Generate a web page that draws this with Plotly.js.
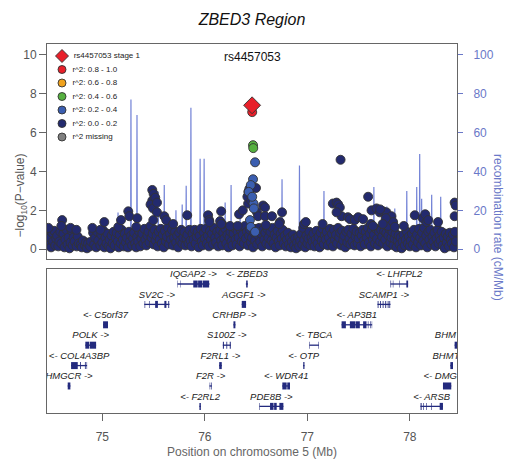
<!DOCTYPE html>
<html><head><meta charset="utf-8">
<script src="https://cdn.plot.ly/plotly-3.0.1.min.js"></script>
<style>html,body{margin:0;padding:0;background:#fff}</style>
</head><body><div id="chart" style="width:516px;height:461px"></div>
<script>
// ---------- association data (Mb, -log10 P) ----------
const basePos = [74.47,74.48,74.49,74.50,74.51,74.52,74.53,74.54,74.55,74.56,74.57,74.58,74.59,74.60,74.62,74.63,74.64,74.65,74.66,74.67,74.68,74.69,74.70,74.71,74.72,74.73,74.75,74.76,74.77,74.79,74.80,74.81,74.83,74.84,74.85,74.86,74.88,74.89,74.91,74.92,74.93,74.94,74.95,74.96,74.98,74.99,75.00,75.01,75.02,75.03,75.04,75.05,75.06,75.07,75.08,75.09,75.10,75.11,75.12,75.13,75.14,75.15,75.16,75.17,75.18,75.19,75.20,75.21,75.22,75.23,75.24,75.25,75.26,75.27,75.28,75.29,75.30,75.31,75.32,75.33,75.34,75.35,75.36,75.37,75.38,75.39,75.40,75.41,75.42,75.43,75.44,75.45,75.46,75.47,75.48,75.49,75.50,75.51,75.52,75.53,75.54,75.55,75.56,75.57,75.58,75.59,75.60,75.61,75.62,75.63,75.64,75.65,75.66,75.67,75.68,75.69,75.70,75.71,75.72,75.73,75.74,75.75,75.76,75.77,75.78,75.79,75.80,75.81,75.82,75.83,75.84,75.85,75.86,75.87,75.88,75.89,75.90,75.91,75.92,75.93,75.94,75.95,75.96,75.97,75.98,75.99,76.00,76.01,76.02,76.03,76.04,76.05,76.06,76.07,76.08,76.09,76.10,76.11,76.12,76.13,76.14,76.15,76.16,76.17,76.18,76.19,76.20,76.21,76.22,76.23,76.24,76.25,76.26,76.27,76.28,76.29,76.30,76.31,76.32,76.33,76.34,76.35,76.36,76.37,76.38,76.39,76.40,76.41,76.42,76.43,76.44,76.45,76.46,76.47,76.48,76.49,76.50,76.51,76.52,76.53,76.54,76.55,76.56,76.57,76.58,76.59,76.60,76.61,76.62,76.63,76.64,76.65,76.66,76.67,76.68,76.69,76.70,76.71,76.72,76.73,76.74,76.75,76.76,76.77,76.78,76.79,76.80,76.81,76.82,76.83,76.84,76.85,76.86,76.87,76.88,76.89,76.90,76.91,76.92,76.93,76.94,76.95,76.96,76.97,76.98,76.99,77.00,77.01,77.02,77.03,77.04,77.05,77.06,77.07,77.08,77.09,77.10,77.11,77.12,77.13,77.14,77.15,77.16,77.17,77.18,77.19,77.20,77.21,77.22,77.23,77.24,77.25,77.26,77.27,77.28,77.29,77.30,77.31,77.32,77.33,77.34,77.35,77.36,77.37,77.38,77.39,77.40,77.41,77.42,77.43,77.44,77.45,77.46,77.47,77.48,77.49,77.50,77.51,77.52,77.53,77.54,77.55,77.56,77.57,77.58,77.59,77.60,77.61,77.62,77.63,77.64,77.65,77.66,77.67,77.68,77.69,77.70,77.71,77.72,77.73,77.74,77.75,77.76,77.77,77.78,77.79,77.80,77.81,77.82,77.83,77.84,77.85,77.86,77.87,77.88,77.89,77.90,77.91,77.92,77.93,77.94,77.95,77.96,77.97,77.98,77.99,78.00,78.01,78.02,78.03,78.04,78.05,78.06,78.07,78.08,78.09,78.10,78.11,78.12,78.13,78.14,78.15,78.16,78.17,78.18,78.19,78.20,78.21,78.22,78.23,78.24,78.25,78.26,78.27,78.28,78.29,78.30,78.31,78.32,78.33,78.34,78.35,78.36,78.37,78.38,78.39,78.40,78.41,78.42,78.43,78.44,78.45];
const baseLogP = [0.9,0.3,0.6,0.1,0.85,0.4,0.95,0.2,0.55,0.7,0.15,0.4,0.9,0.3,0.8,0.1,0.5,1.0,0.25,0.6,0.05,0.35,0.95,0.2,0.6,0.4,0.15,0.65,0.3,0.25,0.1,0.45,0.2,0.35,0.05,0.3,0.15,0.4,0.85,0.25,0.6,0.1,0.9,0.45,0.2,0.75,0.35,0.95,0.1,0.6,0.3,0.8,0.15,0.5,0.05,0.7,0.3,0.9,0.2,0.6,0.85,0.4,0.1,0.75,0.3,1.0,0.5,0.15,0.8,0.35,0.6,0.1,0.9,0.4,0.7,0.2,0.55,0.85,0.3,0.1,0.65,0.4,0.9,0.15,0.55,0.8,0.3,1.05,0.5,0.2,0.7,0.9,0.35,1.2,0.6,0.8,0.25,1.0,0.45,0.7,0.15,0.9,0.5,1.05,0.3,0.75,0.1,0.95,0.4,0.65,1.1,0.25,0.8,0.5,1.0,0.2,0.6,0.9,0.35,0.7,0.1,0.85,0.45,1.0,0.3,0.6,0.9,0.2,0.55,0.75,0.3,1.0,0.45,0.15,0.8,0.5,1.0,0.3,0.65,0.9,0.1,0.7,1.05,0.4,0.2,0.85,0.55,1.05,0.3,0.7,0.15,0.95,0.5,0.8,0.25,1.1,0.6,0.35,0.9,0.15,0.7,1.0,0.45,0.2,0.85,0.55,1.05,0.3,0.75,0.1,0.6,0.9,0.4,0.2,0.8,1.1,0.5,0.25,0.9,0.6,0.15,1.0,0.4,0.75,0.3,1.2,0.55,0.9,0.2,0.7,1.0,0.35,0.6,0.1,0.85,0.45,1.05,0.25,0.7,1.1,0.4,0.8,0.15,1.0,0.5,0.85,0.3,1.05,0.6,0.2,0.9,0.45,1.1,0.3,0.75,0.1,0.6,0.95,0.4,0.2,0.8,0.55,1.0,0.3,0.7,0.15,0.5,0.85,0.25,0.6,0.1,0.4,0.75,0.2,0.55,0.05,0.35,0.65,0.15,0.45,0.8,0.25,1.1,0.5,0.1,0.7,0.3,0.55,0.9,0.2,0.6,0.4,0.8,0.15,0.5,0.95,0.3,0.65,0.1,0.85,0.45,1.05,0.25,0.7,0.5,0.9,0.2,0.6,1.05,0.35,0.8,0.15,1.0,0.5,0.75,0.3,1.1,0.6,0.85,0.2,0.95,0.45,0.7,0.1,0.9,0.35,1.0,0.55,0.25,0.8,0.4,1.05,0.2,0.65,0.9,0.3,0.55,0.85,0.15,0.7,1.0,0.45,0.25,0.9,0.6,1.1,0.35,0.8,0.15,1.0,0.5,0.75,0.3,1.05,0.55,0.2,0.9,0.4,1.0,0.65,0.3,0.95,0.5,0.85,0.15,0.7,1.05,0.35,0.6,0.9,0.2,0.55,0.8,0.1,0.45,0.7,0.25,0.6,0.05,0.4,0.75,0.2,0.5,0.9,0.3,0.65,0.15,0.45,0.8,0.25,1.0,0.55,0.1,0.75,0.35,1.05,0.6,0.2,0.85,0.45,1.1,0.3,0.7,0.1,0.9,0.5,1.0,0.25,0.65,0.4,0.85,0.15,0.55,1.0,0.3,0.7,0.45,0.9,0.2,0.6,0.05,0.8,0.35,0.65,0.15,0.85,0.5,0.3,0.75,0.1,0.9,0.4];
const upPos = [74.474,74.608,74.600,74.690,74.747,74.903,74.981,75.019,75.156,75.182,75.253,75.263,75.341,75.331,75.487,75.500,75.487,75.470,75.495,75.516,75.533,75.497,75.533,75.604,75.623,75.691,75.828,76.032,76.042,76.149,76.159,76.168,76.246,76.334,76.370,76.422,76.415,76.425,76.434,76.452,76.499,76.509,76.519,76.568,76.587,76.587,76.655,76.733,76.753,76.967,77.149,77.249,77.285,77.301,77.317,77.334,77.285,77.324,77.395,77.415,77.463,77.496,77.544,77.593,77.626,77.675,77.707,77.739,77.772,77.788,77.821,77.837,77.853,77.941,78.048,78.126,78.162,78.275,78.437,78.447,78.437,77.710,77.765,77.735,77.620,77.640,78.150,78.180,76.045,76.160,76.320,76.595,76.725,76.985];
const upLogP = [1.1,1.5,1.2,1.1,1.0,1.1,1.0,1.4,1.15,1.5,1.95,1.7,1.6,1.15,3.05,2.85,2.5,2.3,2.1,2.65,2.4,1.5,1.9,1.7,1.5,1.3,1.75,1.75,1.5,1.45,1.95,1.3,1.2,1.8,2.0,2.35,2.7,2.95,3.1,2.5,3.15,1.9,1.7,2.25,2.15,1.7,1.7,1.4,1.9,1.3,1.3,2.35,2.4,2.3,2.15,1.7,1.9,4.6,1.65,1.55,1.5,1.65,1.55,2.7,2.0,2.1,1.9,1.95,1.9,1.2,1.7,1.4,1.15,1.2,1.75,1.6,1.4,1.4,2.4,2.25,1.7,2.05,1.6,1.3,1.3,1.2,1.8,1.5,1.4,1.3,1.2,1.25,1.3,1.4];
const r2lowPos = [76.490,76.470,76.448,76.475,76.478,76.440,76.448,76.490,76.428,76.462];
const r2lowLogP = [4.47,3.6,3.3,2.35,2.1,1.5,1.15,0.9,2.95,2.7];
const r2midPos = [76.470,76.472];
const r2midLogP = [5.35,5.2];
const r2highPos = [76.462];
const r2highLogP = [7.05];
const leadPos = [76.461];
const leadLogP = [7.4];
const leadName = 'rs4457053';

// ---------- recombination rate (cM/Mb) ----------
const recPos = [74.46,75.150,75.153,75.156,75.276,75.279,75.282,75.335,75.338,75.341,75.542,75.545,75.548,75.601,75.604,75.607,75.715,75.718,75.721,75.776,75.779,75.782,75.815,75.818,75.821,75.861,75.864,75.867,75.951,75.954,75.957,75.990,75.993,75.996,76.195,76.198,76.201,76.253,76.256,76.259,76.341,76.344,76.347,76.750,76.753,76.756,76.920,76.923,76.926,77.159,77.162,77.165,77.646,77.649,77.652,77.772,77.775,77.778,77.850,77.853,77.856,77.967,77.970,77.973,78.064,78.067,78.070,78.093,78.096,78.099,78.112,78.115,78.118,78.210,78.213,78.216,78.298,78.301,78.304,78.46];
const recRate = [1.5,1.5,18.9,1.5,1.5,77,1.5,1.5,69,1.5,1.5,29.7,1.5,1.5,33,1.5,1.5,20,1.5,1.5,23,1.5,1.5,32.6,1.5,1.5,72.8,1.5,1.5,46.5,1.5,1.5,46.5,1.5,1.5,24,1.5,1.5,33,1.5,1.5,18,1.5,1.5,36,1.5,1.5,43,1.5,1.5,30,1.5,1.5,32,1.5,1.5,22,1.5,1.5,21,1.5,1.5,30,1.5,1.5,32,1.5,1.5,49,1.5,1.5,26,1.5,1.5,28,1.5,1.5,27,1.5,1.5];

// ---------- legend ----------
const legendLabels = ['rs4457053 stage 1','r^2: 0.8 - 1.0','r^2: 0.6 - 0.8','r^2: 0.4 - 0.6','r^2: 0.2 - 0.4','r^2: 0.0 - 0.2','r^2 missing'];
const legendColors = ['#e8202a','#e8202a','#f0a21d','#55b03f','#3b5eb0','#232a6e','#7f7f7f'];
const legendSymbols = ['diamond','circle','circle','circle','circle','circle','circle'];

// ---------- genes ----------
const geneNames = ['IQGAP2 ->','<- ZBED3','<- LHFPL2','SV2C ->','AGGF1 ->','SCAMP1 ->','<- C5orf37','CRHBP ->','<- AP3B1','POLK ->','S100Z ->','<- TBCA','BHMT2 ->','<- COL4A3BP','F2RL1 ->','<- OTP','BHMT ->','HMGCR ->','F2R ->','<- WDR41','<- DMGDH','<- F2RL2','PDE8B ->','<- ARSB'];
const geneStart = [75.733,76.400,77.811,75.409,76.360,77.684,75.007,76.279,77.334,74.834,76.175,77.019,78.437,74.695,76.139,76.958,78.395,74.662,76.045,76.756,78.323,75.947,76.532,78.103];
const geneEnd = [76.045,76.420,77.983,75.655,76.402,77.811,75.055,76.298,77.632,74.939,76.253,77.113,78.475,74.851,76.165,76.972,78.421,74.688,76.068,76.831,78.404,75.961,76.766,78.323];
const geneRow = [1,1,1,2,2,2,3,3,3,4,4,4,4,5,5,5,5,6,6,6,6,7,7,7];
const geneExons = [
  [[75.733,75.737],[75.758,75.762],[75.887,75.930],[75.934,75.975],[75.980,76.042]],
  [[76.403,76.418]],
  [[77.811,77.817],[77.834,77.839],[77.898,77.903],[77.966,77.983]],
  [[75.412,75.418],[75.455,75.461],[75.515,75.542],[75.605,75.625],[75.643,75.652]],
  [[76.360,76.402]],
  [[77.686,77.694],[77.710,77.718],[77.735,77.743],[77.760,77.769],[77.784,77.792],[77.800,77.808]],
  [[75.007,75.055]],
  [[76.279,76.298]],
  [[77.334,77.376],[77.415,77.470],[77.474,77.512],[77.544,77.577],[77.590,77.596],[77.614,77.620],[77.628,77.632]],
  [[74.834,74.870],[74.876,74.939]],
  [[76.176,76.186],[76.210,76.218],[76.243,76.253]],
  [[77.019,77.024],[77.108,77.113]],
  [[78.437,78.475]],
  [[74.695,74.760],[74.782,74.790],[74.830,74.838],[74.846,74.851]],
  [[76.140,76.165]],
  [[76.960,76.972]],
  [[78.395,78.421]],
  [[74.662,74.688]],
  [[76.047,76.052],[76.060,76.066]],
  [[76.756,76.798],[76.804,76.831]],
  [[78.323,78.404]],
  [[75.947,75.961]],
  [[76.532,76.537],[76.636,76.670],[76.676,76.701],[76.727,76.766]],
  [[78.103,78.107],[78.110,78.116],[78.132,78.138],[78.158,78.164],[78.207,78.213],[78.291,78.323]]
];
const xTicks = [75,76,77,78];

// ---------- build ----------
const XR = [74.46, 78.46];
const OUT = '#333333';
const FONT = 'Liberation Sans, Arial, Helvetica, sans-serif';
const GENECOL = '#232a7e';
const RECCOL = '#6a78c8';
const NB = '\u00a0';

function pts(x, y, color, symbol, size) {
  return {type:'scatter', mode:'markers', x:x, y:y, xaxis:'x', yaxis:'y2', hoverinfo:'skip', showlegend:false,
    marker:{color:color, symbol:symbol, size:size, opacity:1, line:{color:OUT, width:0.9}}};
}

const intronX = [], intronY = [], exonX = [], exonY = [];
geneNames.forEach((g, i) => {
  intronX.push(geneStart[i], geneEnd[i], null);
  intronY.push(-geneRow[i], -geneRow[i], null);
  geneExons[i].forEach(e => { exonX.push(e[0], e[1], null); exonY.push(-geneRow[i], -geneRow[i], null); });
});
const labelX = geneNames.map((g, i) => (geneStart[i] + geneEnd[i]) / 2);
const labelY = geneRow.map(r => -r + 0.45);

const legendY = legendLabels.map((l, i) => 12 + 13.5 * i);

const traces = [
  {type:'scatter', mode:'lines', x:recPos, y:recRate, xaxis:'x', yaxis:'y', hoverinfo:'skip', showlegend:false,
   line:{color:'rgba(100,118,210,0.9)', width:1.2}},
  pts(basePos, baseLogP, '#232a6e', 'circle', 9),
  pts(upPos, upLogP, '#232a6e', 'circle', 9),
  pts(r2lowPos, r2lowLogP, '#3b5eb0', 'circle', 9),
  pts(r2midPos, r2midLogP, '#55b03f', 'circle', 9),
  pts(r2highPos, r2highLogP, '#e8202a', 'circle', 9),
  pts(leadPos, leadLogP, '#e8202a', 'diamond', 13),
  {type:'scatter', mode:'markers+text', x:legendLabels.map(() => 15), y:legendY, xaxis:'x4', yaxis:'y4',
   text:legendLabels.map(l => '  ' + l), textposition:'middle right', cliponaxis:false, hoverinfo:'skip', showlegend:false,
   textfont:{family:FONT, size:8, color:'#222'},
   marker:{color:legendColors, symbol:legendSymbols, opacity:1, size:legendSymbols.map(s => s === 'diamond' ? 10 : 8), line:{color:OUT, width:0.9}}},
  {type:'scatter', mode:'lines', x:intronX, y:intronY, xaxis:'x3', yaxis:'y3', hoverinfo:'skip', showlegend:false,
   line:{color:GENECOL, width:1.3}, connectgaps:false},
  {type:'scatter', mode:'lines', x:exonX, y:exonY, xaxis:'x3', yaxis:'y3', hoverinfo:'skip', showlegend:false,
   line:{color:GENECOL, width:7}, connectgaps:false},
  {type:'scatter', mode:'text', x:labelX, y:labelY, text:geneNames, xaxis:'x3', yaxis:'y3', hoverinfo:'skip', showlegend:false,
   cliponaxis:true, textposition:'middle center', textfont:{family:FONT, size:9.5, color:'#222', style:'italic'}}
];

const topDom = [0.4173, 1], botDom = [0, 0.3902];
const layout = {
  width:516, height:461, margin:{l:47, r:59, t:44, b:48},
  paper_bgcolor:'#fff', plot_bgcolor:'rgba(0,0,0,0)', showlegend:false,
  font:{family:FONT, color:'#555'},
  title:{text:'ZBED3 Region', font:{family:FONT, size:16, color:'#111', style:'italic'}, xref:'paper', x:0.5, xanchor:'center', yref:'container', y:1 - 19/461, yanchor:'middle'},
  xaxis:{domain:[0,1], range:XR, anchor:'y', showticklabels:false, ticks:'', showgrid:false, zeroline:false,
         showline:true, mirror:true, linecolor:'#666', linewidth:1},
  yaxis:{domain:topDom, range:[-5, 105.5], side:'right', anchor:'x', tickvals:[0,20,40,60,80,100], ticks:'outside', ticklen:5,
         tickcolor:RECCOL, tickfont:{size:12, color:RECCOL}, ticklabelstandoff:8, showgrid:false, zeroline:false,
         showline:true, mirror:true, linecolor:'#666', linewidth:1},
  yaxis2:{overlaying:'y', side:'left', anchor:'x', range:[-0.5, 10.55], tickvals:[0,2,4,6,8,10], ticks:'outside', ticklen:7,
          tickcolor:'#666', tickwidth:1, tickfont:{size:12, color:'#555'}, ticksuffix:NB+NB+NB+NB, showgrid:false, zeroline:false, showline:false},
  xaxis4:{overlaying:'x', range:[0, 410], visible:false, anchor:'y4'},
  yaxis4:{overlaying:'y', range:[215, 0], visible:false, anchor:'x4'},
  xaxis3:{domain:[0,1], range:XR, anchor:'y3', tickvals:xTicks, ticks:'outside', ticklen:7, tickcolor:'#666',
          tickfont:{size:12, color:'#555'}, ticklabelstandoff:6, showgrid:false, zeroline:false,
          showline:true, mirror:true, linecolor:'#666', linewidth:1,
          title:{text:'Position on chromosome 5 (Mb)', font:{size:12, color:'#666'}, standoff:4}},
  yaxis3:{domain:botDom, range:[-7.325, -0.265], anchor:'x3', showticklabels:false, ticks:'', showgrid:false, zeroline:false,
          showline:true, mirror:true, linecolor:'#666', linewidth:1},
  annotations:[
    {text:leadName, x:leadPos[0], y:9.89, xref:'x', yref:'y2', showarrow:false, font:{family:FONT, size:12, color:'#111'}},
    {text:'\u2212log<sub>10</sub>(P\u2212value)', xref:'paper', yref:'paper', x:-(47-11)/410, y:(topDom[0]+topDom[1])/2,
     textangle:-90, showarrow:false, font:{family:FONT, size:12, color:'#555'}},
    {text:'recombination rate (cM/Mb)', xref:'paper', yref:'paper', x:1 + (507-457)/410, y:(topDom[0]+topDom[1])/2,
     textangle:90, showarrow:false, font:{family:FONT, size:12, color:RECCOL}}
  ]
};

Plotly.newPlot('chart', traces, layout, {staticPlot:true, displayModeBar:false});
</script></body></html>
